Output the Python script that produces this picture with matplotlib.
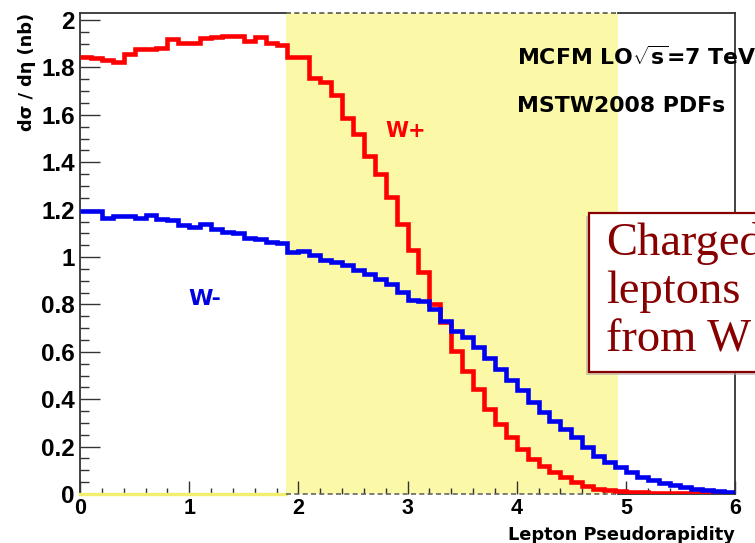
import numpy as np
import matplotlib
matplotlib.use("Agg")
import matplotlib.pyplot as plt
from matplotlib.patches import Rectangle
from matplotlib.ticker import MultipleLocator, FuncFormatter

# Lepton pseudorapidity bins (0.1 wide, 0 to 6)
eta_edges = np.round(np.arange(0.0, 6.0001, 0.1), 1)

# dsigma/deta (nb) for leptons from W+ decays
w_plus = [1.845, 1.840, 1.830, 1.822, 1.858, 1.877, 1.878, 1.884, 1.920, 1.905,
          1.905, 1.926, 1.927, 1.932, 1.932, 1.913, 1.927, 1.905, 1.895, 1.845,
          1.845, 1.755, 1.740, 1.683, 1.585, 1.521, 1.426, 1.352, 1.254, 1.141,
          1.028, 0.937, 0.803, 0.725, 0.604, 0.521, 0.444, 0.359, 0.296, 0.239,
          0.190, 0.148, 0.120, 0.091, 0.070, 0.049, 0.035, 0.022, 0.015, 0.011,
          0.009, 0.007, 0.006, 0.005, 0.004, 0.003, 0.003, 0.002, 0.002, 0.001]

# dsigma/deta (nb) for leptons from W- decays
w_minus = [1.195, 1.195, 1.166, 1.172, 1.172, 1.165, 1.179, 1.160, 1.158, 1.137,
           1.127, 1.141, 1.117, 1.105, 1.100, 1.082, 1.078, 1.065, 1.060, 1.021,
           1.025, 1.007, 0.989, 0.979, 0.965, 0.944, 0.930, 0.909, 0.888, 0.852,
           0.817, 0.815, 0.782, 0.731, 0.690, 0.664, 0.622, 0.574, 0.527, 0.482,
           0.437, 0.387, 0.345, 0.310, 0.275, 0.239, 0.197, 0.162, 0.134, 0.112,
           0.091, 0.072, 0.057, 0.046, 0.036, 0.028, 0.021, 0.016, 0.012, 0.010]

# forward acceptance region highlighted on the plot
acc_lo, acc_hi = 1.887, 4.93

x_ticks = [0, 1, 2, 3, 4, 5, 6]
y_ticks = [0, 0.2, 0.4, 0.6, 0.8, 1.0, 1.2, 1.4, 1.6, 1.8, 2.0]

plt.rcParams['mathtext.fontset'] = 'custom'
plt.rcParams['mathtext.rm'] = 'DejaVu Sans:bold'
plt.rcParams['mathtext.it'] = 'DejaVu Sans:bold'

W, H = 755, 543
fig = plt.figure(figsize=(W / 100, H / 100), dpi=100)
fig.patch.set_facecolor('white')

ax_l, ax_r, ax_t, ax_b = 80, 735, 13, 494
ax = fig.add_axes([ax_l / W, 1 - ax_b / H, (ax_r - ax_l) / W, (ax_b - ax_t) / H])
ax.set_xlim(0, 6)
ax.set_ylim(0, 2.03)

frame_col = '#333333'
yellow = '#fbf8a8'

# highlighted band
ax.add_patch(Rectangle((acc_lo, 0), acc_hi - acc_lo, 2.03, facecolor=yellow,
                       edgecolor='none', zorder=0.5))

# histograms
ax.stairs(w_plus, eta_edges, color='#ff0000', linewidth=3.3, baseline=None, zorder=3)
ax.stairs(w_minus, eta_edges, color='#0000f0', linewidth=3.3, baseline=None, zorder=3)

# frame: custom top/bottom lines, regular left/right spines
for side in ('top', 'bottom'):
    ax.spines[side].set_visible(False)
for side in ('left', 'right'):
    ax.spines[side].set_color(frame_col)
    ax.spines[side].set_linewidth(1.3)

tr = ax.get_xaxis_transform()
ax.plot([0, acc_lo], [1, 1], color=frame_col, lw=1.3, transform=tr, clip_on=False, zorder=2.6)
ax.plot([acc_lo, acc_hi], [1, 1], color='#555555', lw=1.2, ls=(0, (3, 2)), transform=tr,
        clip_on=False, zorder=2.6)
ax.plot([acc_hi, 6], [1, 1], color=frame_col, lw=1.3, transform=tr, clip_on=False, zorder=2.6)
ax.plot([0, acc_lo], [0, 0], color='#f2ee70', lw=2.4, transform=tr, clip_on=False, zorder=2.6)
ax.plot([acc_lo, acc_hi], [0, 0], color='#666666', lw=1.2, ls=(0, (3, 2)), transform=tr,
        clip_on=False, zorder=2.6)
ax.plot([acc_hi, 6], [0, 0], color=frame_col, lw=1.3, transform=tr, clip_on=False, zorder=2.6)

# ticks
ax.xaxis.set_minor_locator(MultipleLocator(0.2))
ax.yaxis.set_minor_locator(MultipleLocator(0.05))
ax.set_xticks(x_ticks)
ax.set_yticks(y_ticks)
fmt = FuncFormatter(lambda v, p: f"{v:g}")
ax.xaxis.set_major_formatter(fmt)
ax.yaxis.set_major_formatter(fmt)

ax.tick_params(axis='y', which='major', direction='in', length=14.4, width=1.0,
               color=frame_col, pad=3.6, labelsize=17.5)
ax.tick_params(axis='y', which='minor', direction='in', length=6.8, width=1.0, color=frame_col)
ax.tick_params(axis='x', which='major', direction='in', length=9.4, width=1.0,
               color=frame_col, pad=3.0, labelsize=15.5)
ax.tick_params(axis='x', which='minor', direction='in', length=4.5, width=1.0, color=frame_col)
for lab in ax.get_xticklabels() + ax.get_yticklabels():
    lab.set_fontfamily('Liberation Sans')
    lab.set_fontweight('bold')

# axis titles
fig.text(26.5 / W, 1 - 13 / H, "dσ / dη (nb)", rotation=90, ha='center', va='top',
         fontsize=12.8, fontweight='bold', family='DejaVu Sans')
fig.text(735 / W, 1 - 540 / H, "Lepton Pseudorapidity", ha='right', va='baseline',
         fontsize=12.8, fontweight='bold', family='DejaVu Sans')

# in-plot labels
ax.text(2.985, 1.508, "W+", color='#ff0000', ha='center', va='baseline',
        fontsize=15, fontweight='bold', family='DejaVu Sans', zorder=4)
ax.text(1.145, 0.798, "W-", color='#0000e0', ha='center', va='baseline',
        fontsize=16, fontweight='bold', family='DejaVu Sans', zorder=4)
ax.text(4.0, 1.811, r"MCFM LO$\sqrt{\mathrm{s}}$=7 TeV", ha='left', va='baseline',
        fontsize=15.8, fontweight='bold', family='DejaVu Sans', zorder=4)
ax.text(4.0, 1.614, "MSTW2008 PDFs", ha='left', va='baseline',
        fontsize=15.8, fontweight='bold', family='DejaVu Sans', zorder=4)

# callout box with shadow
box_l, box_t, box_b = 589, 213, 372
box_col = '#860000'
shadow = Rectangle(((box_l - 3) / W, 1 - (box_b + 3) / H), 0.3, (box_b - box_t) / H,
                   transform=fig.transFigure, facecolor='#b8a8a8', edgecolor='none',
                   alpha=0.6, zorder=5)
fig.add_artist(shadow)
box = Rectangle((box_l / W, 1 - box_b / H), 0.3, (box_b - box_t) / H,
                transform=fig.transFigure, facecolor='white', edgecolor=box_col,
                linewidth=1.6, zorder=6)
fig.add_artist(box)
for line, base in (("Charged", 255), ("leptons", 303), ("from W", 351.5)):
    fig.text(606.5 / W, 1 - base / H, line, ha='left', va='baseline', color=box_col,
             fontsize=33.5, family='Liberation Serif', zorder=7)

fig.savefig("out.png", dpi=100)
